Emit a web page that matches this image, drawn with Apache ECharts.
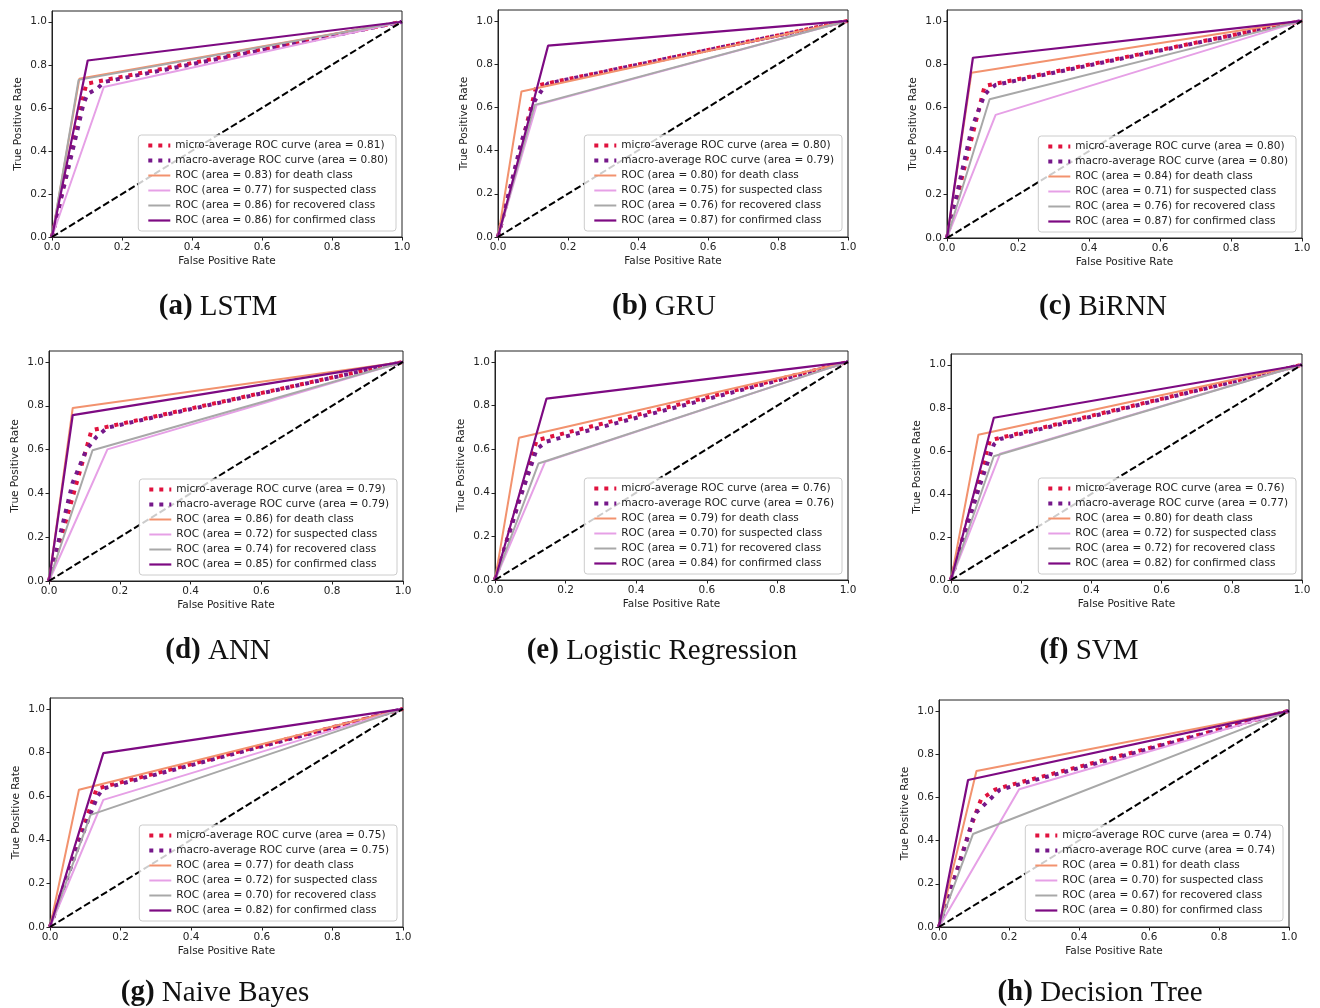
<!DOCTYPE html>
<html>
<head>
<meta charset="utf-8">
<script src="https://cdn.jsdelivr.net/npm/echarts@6/dist/echarts.min.js"></script>
<style>
html, body { margin: 0; padding: 0; background: #fff; }
#main { width: 1320px; height: 1008px; }
</style>
</head>
<body>
<div id="main"></div>
<script>
// captions of the eight panels
var panelTags = ['(a)', '(b)', '(c)', '(d)', '(e)', '(f)', '(g)', '(h)'];
var panelNames = ['LSTM', 'GRU', 'BiRNN', 'ANN', 'Logistic Regression', 'SVM', 'Naive Bayes', 'Decision Tree'];

// areas printed in the legends
var microArea = [0.81, 0.80, 0.80, 0.79, 0.76, 0.76, 0.75, 0.74];
var macroArea = [0.80, 0.79, 0.80, 0.79, 0.76, 0.77, 0.75, 0.74];
var deathArea = [0.83, 0.80, 0.84, 0.86, 0.79, 0.80, 0.77, 0.81];
var suspectedArea = [0.77, 0.75, 0.71, 0.72, 0.70, 0.72, 0.72, 0.70];
var recoveredArea = [0.86, 0.76, 0.76, 0.74, 0.71, 0.72, 0.70, 0.67];
var confirmedArea = [0.86, 0.87, 0.87, 0.85, 0.84, 0.82, 0.82, 0.80];

// ROC points [FPR, TPR] per panel
var microCurves = [
    [[0, 0], [0.098, 0.712], [1, 1]],
    [[0, 0], [0.11, 0.70], [1, 1]],
    [[0, 0], [0.106, 0.70], [1, 1]],
    [[0, 0], [0.12, 0.688], [1, 1]],
    [[0, 0], [0.118, 0.641], [1, 1]],
    [[0, 0], [0.111, 0.649], [1, 1]],
    [[0, 0], [0.132, 0.634], [1, 1]],
    [[0, 0], [0.09, 0.46], [0.12, 0.59], [0.16, 0.635], [0.2, 0.655], [1, 1]]
];
var macroCurves = [
    [[0, 0], [0.076, 0.52], [0.09, 0.62], [0.102, 0.665], [0.13, 0.69], [0.148, 0.72], [1, 1]],
    [[0, 0], [0.067, 0.44], [0.105, 0.63], [0.13, 0.69], [0.143, 0.71], [1, 1]],
    [[0, 0], [0.069, 0.5], [0.073, 0.52], [0.106, 0.66], [0.12, 0.685], [0.137, 0.705], [1, 1]],
    [[0, 0], [0.067, 0.45], [0.106, 0.6], [0.135, 0.66], [0.165, 0.70], [1, 1]],
    [[0, 0], [0.068, 0.36], [0.118, 0.6], [0.146, 0.635], [1, 1]],
    [[0, 0], [0.078, 0.42], [0.122, 0.63], [0.14, 0.655], [1, 1]],
    [[0, 0], [0.082, 0.38], [0.115, 0.52], [0.135, 0.6], [0.151, 0.635], [1, 1]],
    [[0, 0], [0.083, 0.42], [0.097, 0.5], [0.107, 0.53], [0.173, 0.634], [0.229, 0.66], [1, 1]]
];
var deathCurves = [
    [[0, 0], [0.078, 0.735], [1, 1]],
    [[0, 0], [0.067, 0.673], [1, 1]],
    [[0, 0], [0.069, 0.761], [1, 1]],
    [[0, 0], [0.067, 0.79], [1, 1]],
    [[0, 0], [0.068, 0.652], [1, 1]],
    [[0, 0], [0.078, 0.675], [1, 1]],
    [[0, 0], [0.082, 0.629], [1, 1]],
    [[0, 0], [0.107, 0.722], [1, 1]]
];
var suspectedCurves = [
    [[0, 0], [0.148, 0.697], [1, 1]],
    [[0, 0], [0.11, 0.61], [1, 1]],
    [[0, 0], [0.137, 0.567], [1, 1]],
    [[0, 0], [0.165, 0.601], [1, 1]],
    [[0, 0], [0.142, 0.542], [1, 1]],
    [[0, 0], [0.14, 0.587], [1, 1]],
    [[0, 0], [0.151, 0.583], [1, 1]],
    [[0, 0], [0.229, 0.637], [1, 1]]
];
var recoveredCurves = [
    [[0, 0], [0.076, 0.73], [1, 1]],
    [[0, 0], [0.105, 0.611], [1, 1]],
    [[0, 0], [0.12, 0.639], [1, 1]],
    [[0, 0], [0.123, 0.597], [1, 1]],
    [[0, 0], [0.123, 0.534], [1, 1]],
    [[0, 0], [0.122, 0.575], [1, 1]],
    [[0, 0], [0.115, 0.514], [1, 1]],
    [[0, 0], [0.097, 0.43], [1, 1]]
];
var confirmedCurves = [
    [[0, 0], [0.102, 0.82], [1, 1]],
    [[0, 0], [0.143, 0.885], [1, 1]],
    [[0, 0], [0.073, 0.83], [1, 1]],
    [[0, 0], [0.067, 0.757], [1, 1]],
    [[0, 0], [0.146, 0.832], [1, 1]],
    [[0, 0], [0.122, 0.754], [1, 1]],
    [[0, 0], [0.151, 0.797], [1, 1]],
    [[0, 0], [0.083, 0.68], [1, 1]]
];
var chanceLine = [[0, 0], [1, 1]];
var tickValues = [0, 0.2, 0.4, 0.6, 0.8, 1.0];

// layout (px): plot boxes [left, top, width, height] and caption centres
var plotBoxes = [
    [52, 11, 350, 226], [498, 10, 350, 227], [947, 10, 355, 228],
    [49, 351, 354, 230], [495, 351, 353, 229], [951, 354, 351, 226],
    [50, 698, 353, 229], [939, 700, 350, 227]
];
var captionPos = [
    [218, 307], [664, 307], [1103, 307],
    [218, 651], [662, 651], [1089, 651],
    [215, 993], [1100, 993]
];

var W = 1320, H = 1008;
var sansFont = 'DejaVu Sans';
var f2 = function (v) { return v.toFixed(2); };

var myChart = echarts.init(document.getElementById('main'), null, { renderer: 'canvas' });

var grids = [], xAxes = [], yAxes = [], series = [], legends = [], graphics = [];

for (let i = 0; i < 8; i++) {
    let b = plotBoxes[i];
    grids.push({
        left: b[0], top: b[1], width: b[2], height: b[3],
        show: true, borderColor: '#222', borderWidth: 1, backgroundColor: 'transparent'
    });

    xAxes.push({
        type: 'value', gridIndex: i, min: 0, max: 1, interval: 0.2,
        name: 'False Positive Rate', nameLocation: 'middle', nameGap: 19,
        nameTextStyle: { fontFamily: sansFont, fontSize: 10.5, color: '#222' },
        axisLine: { show: true, lineStyle: { color: '#222', width: 1 } },
        axisTick: { show: true, length: 3.5, lineStyle: { color: '#222' } },
        axisLabel: { fontFamily: sansFont, fontSize: 10.5, color: '#222', margin: 5,
            formatter: function (v) { return v.toFixed(1); } },
        splitLine: { show: false }
    });

    yAxes.push({
        type: 'value', gridIndex: i, min: 0, max: 1.05, interval: 0.2,
        name: 'True Positive Rate', nameLocation: 'middle', nameGap: 28,
        nameTextStyle: { fontFamily: sansFont, fontSize: 10.5, color: '#222' },
        axisLine: { show: true, lineStyle: { color: '#222', width: 1 } },
        axisTick: { show: true, length: 3.5, customValues: tickValues, lineStyle: { color: '#222' } },
        axisLabel: { fontFamily: sansFont, fontSize: 10.5, color: '#222', margin: 5,
            customValues: tickValues,
            formatter: function (v) { return v.toFixed(1); } },
        splitLine: { show: false }
    });

    let names = [
        'micro-average ROC curve (area = ' + f2(microArea[i]) + ')',
        'macro-average ROC curve (area = ' + f2(macroArea[i]) + ')',
        'ROC (area = ' + f2(deathArea[i]) + ') for death class',
        'ROC (area = ' + f2(suspectedArea[i]) + ') for suspected class',
        'ROC (area = ' + f2(recoveredArea[i]) + ') for recovered class',
        'ROC (area = ' + f2(confirmedArea[i]) + ') for confirmed class'
    ];
    let curves = [microCurves[i], macroCurves[i], deathCurves[i], suspectedCurves[i], recoveredCurves[i], confirmedCurves[i]];
    let styles = [
        { color: '#e0123e', width: 4, type: [4, 6] },
        { color: '#76188a', width: 4, type: [4, 6] },
        { color: '#f2926e', width: 2, type: 'solid' },
        { color: '#e6a0e6', width: 2, type: 'solid' },
        { color: '#a8a8a8', width: 2, type: 'solid' },
        { color: '#7d0a82', width: 2.2, type: 'solid' }
    ];

    for (let k = 0; k < 6; k++) {
        series.push({
            name: names[k], type: 'line', xAxisIndex: i, yAxisIndex: i,
            data: curves[k], symbol: 'none', smooth: false, animation: false,
            itemStyle: { color: styles[k].color },
            lineStyle: { color: styles[k].color, width: styles[k].width, type: styles[k].type, cap: 'butt' }
        });
    }
    series.push({
        name: 'chance', type: 'line', xAxisIndex: i, yAxisIndex: i,
        data: chanceLine, symbol: 'none', animation: false,
        itemStyle: { color: '#000' },
        lineStyle: { color: '#000', width: 2, type: [7, 3] }
    });

    legends.push({
        data: names, orient: 'vertical',
        right: W - (b[0] + b[2]) + 6, bottom: H - (b[1] + b[3]) + 6,
        itemWidth: 22, itemHeight: 11, itemGap: 4,
        padding: [5, 8, 5, 8],
        backgroundColor: 'rgba(255,255,255,0.8)', borderColor: '#ccc', borderWidth: 1, borderRadius: 3,
        selectedMode: false,
        itemStyle: { opacity: 0, borderWidth: 0 },
        lineStyle: { width: 'inherit', type: 'inherit' },
        textStyle: { fontFamily: sansFont, fontSize: 10.5, color: '#222' }
    });

    graphics.push({
        type: 'text', x: captionPos[i][0], y: captionPos[i][1],
        style: {
            text: '{b|' + panelTags[i] + '} ' + panelNames[i],
            align: 'center', verticalAlign: 'middle',
            font: '29px "Liberation Serif"', fill: '#111',
            rich: { b: { fontWeight: 'bold', fontSize: 29, fontFamily: 'Liberation Serif', fill: '#111' } }
        }
    });
}

var option = {
    backgroundColor: '#fff',
    animation: false,
    grid: grids,
    xAxis: xAxes,
    yAxis: yAxes,
    legend: legends,
    series: series,
    graphic: graphics
};

myChart.setOption(option);
</script>
</body>
</html>
